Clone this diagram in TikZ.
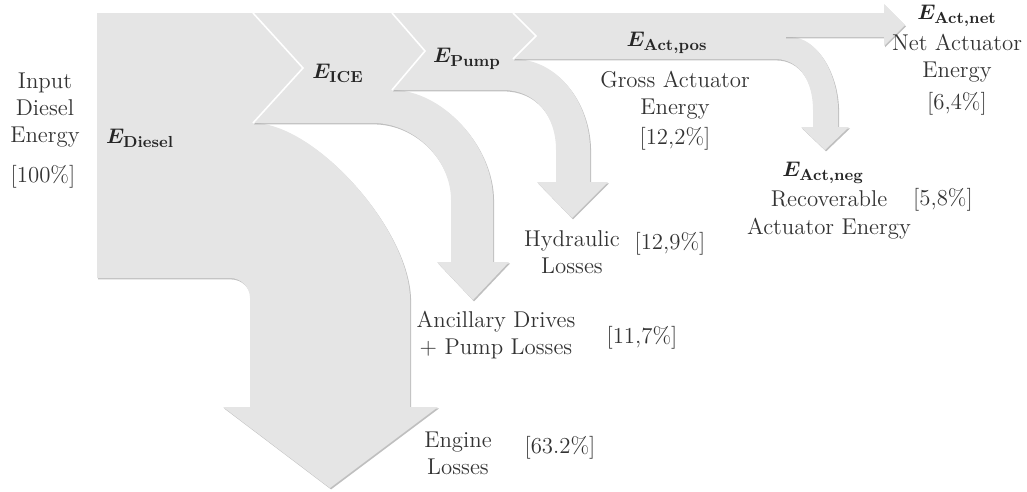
\documentclass[tikz,border=0pt]{standalone}
\usepackage{amsmath}
\usepackage{bm}
\usepackage{tikz}
\usetikzlibrary{shadows}
\tikzstyle{flow} = [fill=black!10, draw=none,
    drop shadow={shadow xshift=.6pt, shadow yshift=-.8pt, opacity=.5}]
\tikzstyle{seam} = [draw=white, line width=.9pt]
\tikzstyle{lbl} = [align=center, inner sep=0pt, text=black!80,
    font=\fontsize{13}{15.5}\selectfont]

\begin{document}
\begin{tikzpicture}[x=0.02cm, y=-0.02cm,
    sym/.style={inner sep=0pt, text=black!85, font=\fontsize{13}{15.5}\selectfont}]
  \useasboundingbox (0,0) rectangle (1027,491);
  % diesel input -> engine losses
  \path[flow] (97,13) -- (253,13) -- (303,68) -- (253,123)
     .. controls (315,123) and (410,229) .. (410,300) -- (410,407) -- (438,407)
     -- (330,488) -- (223,407) -- (250,407) -- (250,298)
     .. controls (250,287) and (241,278) .. (230,278) -- (97,278) -- cycle;
  % ICE -> ancillary drives
  \path[flow] (253,13) -- (392,13) -- (425,51) -- (392,90)
     .. controls (442,90) and (493,145) .. (493,200) -- (493,262) -- (509,262)
     -- (473,300) -- (437,262) -- (451,262) -- (451,200)
     .. controls (451,160) and (415,123) .. (373,123) -- (253,123) -- (303,68) -- cycle;
  % pump -> hydraulic losses
  \path[flow] (392,13) -- (513,13) -- (536,36) -- (513,59)
     .. controls (560,59) and (590,105) .. (590,150) -- (590,182) -- (608,182)
     -- (572,218) -- (537,182) -- (556,182) -- (556,150)
     .. controls (556,115) and (535,90) .. (503,90) -- (392,90) -- (425,51) -- cycle;
  % actuator pos -> neg
  \path[flow] (513,13) -- (790,13) -- (790,37)
     .. controls (818,37) and (838,75) .. (838,110) -- (838,127) -- (849,127)
     -- (825,150) -- (801,127) -- (813,127) -- (813,110)
     .. controls (813,82) and (800,59) .. (775,59) -- (513,59) -- (536,36) -- cycle;
  % actuator net
  \path[flow] (785,13) -- (884,13) -- (884,4) -- (905,25) -- (884,46)
     -- (884,37) -- (785,37) -- cycle;
  % seams
  \draw[seam] (253,13) -- (303,68) -- (253,123);
  \draw[seam] (392,13) -- (425,51) -- (392,90);
  \draw[seam] (513,13) -- (536,36) -- (513,59);

  \node[lbl] (inTxt) at (45,110) {Input\\Diesel\\Energy};
  \node[lbl] (inPct) at (43,177) {[100\%]};
  \node[sym] (eDiesel) at (140,138) {$\bm{E}_{\textbf{Diesel}}$};
  \node[sym] (eICE) at (338,73) {$\bm{E}_{\textbf{ICE}}$};
  \node[sym] (ePump) at (467,59) {$\bm{E}_{\textbf{Pump}}$};
  \node[sym] (eActPos) at (667,43) {$\bm{E}_{\textbf{Act,pos}}$};
  \node[lbl] (grossTxt) at (675,95) {Gross Actuator\\Energy};
  \node[lbl] (grossPct) at (675,139) {[12,2\%]};
  \node[sym] (eActNet) at (957,16) {$\bm{E}_{\textbf{Act,net}}$};
  \node[lbl] (netTxt) at (957,58) {Net Actuator\\Energy};
  \node[lbl] (netPct) at (957,104) {[6,4\%]};
  \node[sym] (eActNeg) at (823,173) {$\bm{E}_{\textbf{Act,neg}}$};
  \node[lbl] (recTxt) at (829,215) {Recoverable\\Actuator Energy};
  \node[lbl] (recPct) at (943,200) {[5,8\%]};
  \node[lbl] (hydTxt) at (572,252) {Hydraulic\\Losses};
  \node[lbl] (hydPct) at (670,244) {[12,9\%]};
  \node[lbl] (ancTxt) at (496,335) {Ancillary Drives\\+ Pump Losses};
  \node[lbl] (ancPct) at (642,338) {[11,7\%]};
  \node[lbl] (engTxt) at (458,453) {Engine\\Losses};
  \node[lbl] (engPct) at (560,448) {[63.2\%]};
\end{tikzpicture}
\end{document}
